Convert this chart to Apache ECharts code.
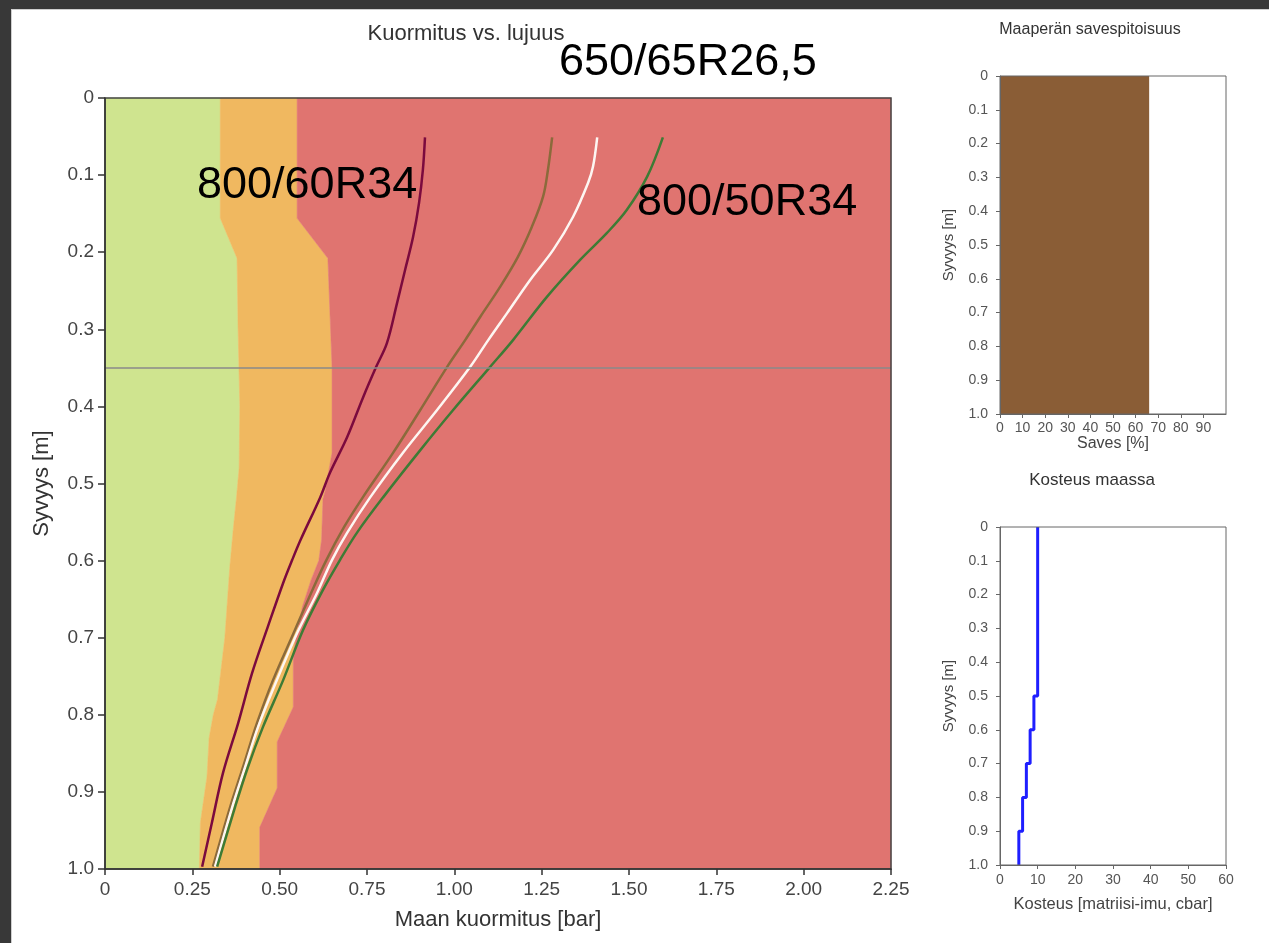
<!DOCTYPE html>
<html>
<head>
<meta charset="utf-8">
<script src="https://cdn.jsdelivr.net/npm/echarts@6/dist/echarts.min.js"></script>
<style>
  html, body { margin: 0; padding: 0; width: 1269px; height: 943px; background: #383838; overflow: hidden; }
  #paper { position: absolute; left: 11px; top: 9px; width: 1258px; height: 934px; background: #fff; border-left: 1px solid #cfcfcf; border-top: 1px solid #cfcfcf; box-sizing: border-box; }
  #chart { position: absolute; left: 0; top: 0; width: 1269px; height: 943px; }
</style>
</head>
<body>
<div id="paper"></div>
<div id="chart"></div>
<script>
// ---------- DATA ----------
// Main chart: soil load [bar] vs depth [m]
const loadMax = 2.25;
const loadStep = 0.25;

// zone edges (green/orange and orange/red) : load at depth
const greenEdgeDepth = [0, 0.156, 0.208, 0.30, 0.40, 0.48, 0.52, 0.56, 0.61, 0.70, 0.78, 0.80, 0.83, 0.88, 0.94, 1.0];
const greenEdge      = [0.330, 0.330, 0.378, 0.381, 0.386, 0.384, 0.376, 0.367, 0.357, 0.343, 0.322, 0.310, 0.298, 0.292, 0.273, 0.270];
const redEdgeDepth   = [0, 0.156, 0.208, 0.35, 0.46, 0.51, 0.52, 0.573, 0.60, 0.625, 0.66, 0.70, 0.72, 0.79, 0.835, 0.895, 0.946, 1.0];
const redEdge        = [0.550, 0.550, 0.638, 0.650, 0.650, 0.630, 0.624, 0.620, 0.612, 0.590, 0.565, 0.547, 0.539, 0.539, 0.493, 0.493, 0.443, 0.443];

// tyre load curves
const maroonDepth = [0.051, 0.093, 0.136, 0.180, 0.223, 0.266, 0.318, 0.349, 0.388, 0.440, 0.486, 0.518, 0.573, 0.599, 0.629, 0.686, 0.746, 0.811, 0.875, 0.940, 0.997];
const maroonLoad  = [0.916, 0.910, 0.899, 0.882, 0.859, 0.836, 0.807, 0.776, 0.739, 0.693, 0.644, 0.616, 0.560, 0.536, 0.510, 0.466, 0.421, 0.381, 0.338, 0.306, 0.278];
const brownDepth  = [0.051, 0.093, 0.128, 0.167, 0.206, 0.245, 0.284, 0.314, 0.349, 0.405, 0.460, 0.518, 0.556, 0.599, 0.642, 0.694, 0.755, 0.811, 0.868, 0.920, 0.997];
const brownLoad   = [1.280, 1.268, 1.254, 1.222, 1.182, 1.131, 1.074, 1.031, 0.979, 0.902, 0.825, 0.738, 0.685, 0.634, 0.590, 0.540, 0.481, 0.435, 0.395, 0.358, 0.309];
const whiteDepth  = [0.051, 0.089, 0.110, 0.154, 0.197, 0.236, 0.279, 0.314, 0.349, 0.405, 0.460, 0.518, 0.564, 0.599, 0.642, 0.694, 0.755, 0.816, 0.868, 0.920, 0.997];
const whiteLoad   = [1.409, 1.397, 1.383, 1.340, 1.283, 1.217, 1.151, 1.097, 1.045, 0.950, 0.853, 0.759, 0.693, 0.650, 0.607, 0.550, 0.492, 0.438, 0.401, 0.364, 0.315];
const greenDepth  = [0.051, 0.102, 0.145, 0.175, 0.210, 0.258, 0.314, 0.349, 0.405, 0.457, 0.518, 0.564, 0.599, 0.638, 0.690, 0.755, 0.816, 0.868, 0.920, 0.997];
const greenLoad   = [1.597, 1.552, 1.494, 1.437, 1.360, 1.265, 1.168, 1.102, 0.996, 0.902, 0.796, 0.721, 0.673, 0.624, 0.567, 0.510, 0.452, 0.409, 0.372, 0.321];

const refDepth = [0.35];

const tyreLabels = ['800/60R34', '650/65R26,5', '800/50R34'];

// Clay content panel
const clayTop = [0];
const clayBottom = [1.0];
const clayPct = [66];

// Moisture panel (layer edges, value per layer)
const moistureEdges = [0, 0.1, 0.2, 0.3, 0.4, 0.5, 0.6, 0.7, 0.8, 0.9, 1.0];
const moisture      = [10, 10, 10, 10, 10, 9, 8, 7, 6, 5];

// ---------- BUILD ----------
const FONT = '"Liberation Sans", Arial, sans-serif';
const pairs = (xs, ds) => xs.map((x, i) => [x, ds[i]]);

const greenEdgePts = pairs(greenEdge, greenEdgeDepth);
const redEdgePts = pairs(redEdge, redEdgeDepth);

function zone(name, leftPts, rightPts, color) {
  return {
    type: 'custom', name: name, xAxisIndex: 0, yAxisIndex: 0, z: 1, silent: true,
    data: [0],
    renderItem: function (params, api) {
      const pts = leftPts.map(p => api.coord(p)).concat(rightPts.slice().reverse().map(p => api.coord(p)));
      return { type: 'polygon', shape: { points: pts }, style: { fill: color, stroke: color, lineWidth: 0.5 } };
    }
  };
}
const zeroEdge = [[0, 0], [0, 1]];
const maxEdge = [[loadMax, 0], [loadMax, 1]];

const moisturePath = [];
moisture.forEach((m, i) => { moisturePath.push([m, moistureEdges[i]]); moisturePath.push([m, moistureEdges[i + 1]]); });

function curve(name, load, depth, color, width) {
  return {
    type: 'line', name: name, xAxisIndex: 0, yAxisIndex: 0, z: 3,
    data: pairs(load, depth), showSymbol: false, smooth: 0.35, silent: true,
    lineStyle: { color: color, width: width }
  };
}

const depthFmt = v => v === 0 ? '0' : v.toFixed(1);
const labelSmall = { fontSize: 14, color: '#555', fontFamily: FONT };
const noSplit = { show: false };

const chart = echarts.init(document.getElementById('chart'), null, { renderer: 'canvas' });
chart.setOption({
  animation: false,
  textStyle: { fontFamily: FONT },
  title: [
    { text: 'Kuormitus vs. lujuus', left: 466, top: 23, textAlign: 'center', padding: 0,
      textStyle: { fontSize: 22, fontWeight: 'normal', color: '#333', fontFamily: FONT } },
    { text: 'Maaperän savespitoisuus', left: 1090, top: 22, textAlign: 'center', padding: 0,
      textStyle: { fontSize: 16, fontWeight: 'normal', color: '#333', fontFamily: FONT } },
    { text: 'Kosteus maassa', left: 1092, top: 472, textAlign: 'center', padding: 0,
      textStyle: { fontSize: 17, fontWeight: 'normal', color: '#333', fontFamily: FONT } }
  ],
  grid: [
    { left: 105, top: 98, width: 786, height: 771, show: true, z: 10, backgroundColor: 'transparent', borderColor: '#444', borderWidth: 1.5 },
    { left: 1000, top: 76, width: 226, height: 338, show: true, z: 10, backgroundColor: 'transparent', borderColor: '#666', borderWidth: 1 },
    { left: 1000, top: 527, width: 226, height: 338, show: true, z: 10, backgroundColor: 'transparent', borderColor: '#666', borderWidth: 1 }
  ],
  xAxis: [
    { type: 'value', gridIndex: 0, min: 0, max: loadMax, interval: loadStep, z: 11,
      axisLine: { onZero: false, lineStyle: { color: '#333', width: 1.5 } },
      axisTick: { length: 6, lineStyle: { color: '#333', width: 1.5 } },
      axisLabel: { fontSize: 19, color: '#444', margin: 11, formatter: v => v === 0 ? '0' : v.toFixed(2) },
      splitLine: noSplit,
      name: 'Maan kuormitus [bar]', nameLocation: 'middle', nameGap: 40,
      nameTextStyle: { fontSize: 22, color: '#333' } },
    { type: 'value', gridIndex: 1, min: 0, max: 100, interval: 10, z: 11,
      axisLine: { onZero: false, lineStyle: { color: '#666', width: 1 } },
      axisTick: { length: 4, lineStyle: { color: '#666' } },
      axisLabel: Object.assign({ margin: 7, showMaxLabel: false }, labelSmall),
      splitLine: noSplit,
      name: 'Saves [%]', nameLocation: 'middle', nameGap: 20,
      nameTextStyle: { fontSize: 16, color: '#444' } },
    { type: 'value', gridIndex: 2, min: 0, max: 60, interval: 10, z: 11,
      axisLine: { onZero: false, lineStyle: { color: '#666', width: 1 } },
      axisTick: { length: 4, lineStyle: { color: '#666' } },
      axisLabel: Object.assign({ margin: 8 }, labelSmall),
      splitLine: noSplit,
      name: 'Kosteus [matriisi-imu, cbar]', nameLocation: 'middle', nameGap: 31,
      nameTextStyle: { fontSize: 16.5, color: '#444' } }
  ],
  yAxis: [
    { type: 'value', gridIndex: 0, min: 0, max: 1, interval: 0.1, inverse: true, z: 11,
      axisLine: { onZero: false, lineStyle: { color: '#333', width: 1.5 } },
      axisTick: { length: 7, lineStyle: { color: '#333', width: 1.5 } },
      axisLabel: { fontSize: 19, color: '#444', margin: 11, formatter: depthFmt },
      splitLine: noSplit,
      name: 'Syvyys [m]', nameLocation: 'middle', nameGap: 52, nameRotate: 90,
      nameTextStyle: { fontSize: 22, color: '#333' } },
    { type: 'value', gridIndex: 1, min: 0, max: 1, interval: 0.1, inverse: true, z: 11,
      axisLine: { onZero: false, lineStyle: { color: '#666', width: 1 } },
      axisTick: { length: 4, lineStyle: { color: '#666' } },
      axisLabel: Object.assign({ margin: 12, formatter: depthFmt }, labelSmall),
      splitLine: noSplit,
      name: 'Syvyys [m]', nameLocation: 'middle', nameGap: 44, nameRotate: 90,
      nameTextStyle: { fontSize: 15, color: '#444' } },
    { type: 'value', gridIndex: 2, min: 0, max: 1, interval: 0.1, inverse: true, z: 11,
      axisLine: { onZero: false, lineStyle: { color: '#666', width: 1 } },
      axisTick: { length: 4, lineStyle: { color: '#666' } },
      axisLabel: Object.assign({ margin: 12, formatter: depthFmt }, labelSmall),
      splitLine: noSplit,
      name: 'Syvyys [m]', nameLocation: 'middle', nameGap: 44, nameRotate: 90,
      nameTextStyle: { fontSize: 15, color: '#444' } }
  ],
  graphic: [
    { type: 'text', z: 100, style: { text: tyreLabels[0], x: 197, y: 186, font: '45px ' + FONT, fill: '#000', textVerticalAlign: 'middle', textAlign: 'left' } },
    { type: 'text', z: 100, style: { text: tyreLabels[1], x: 559, y: 63, font: '45px ' + FONT, fill: '#000', textVerticalAlign: 'middle', textAlign: 'left' } },
    { type: 'text', z: 100, style: { text: tyreLabels[2], x: 637, y: 203, font: '45px ' + FONT, fill: '#000', textVerticalAlign: 'middle', textAlign: 'left' } }
  ],
  series: [
    zone('vihreä', zeroEdge, greenEdgePts, '#cfe48f'),
    zone('oranssi', greenEdgePts, redEdgePts, '#f0b860'),
    zone('punainen', redEdgePts, maxEdge, '#e07470'),
    Object.assign(curve('800/60R34', maroonLoad, maroonDepth, '#7b0a3e', 2.5), {
      markLine: { silent: true, symbol: 'none', label: { show: false },
        lineStyle: { color: '#8a8a8a', width: 1.5, type: 'solid' },
        data: refDepth.map(d => ({ yAxis: d })) }
    }),
    curve('650/65R26,5 (ruskea)', brownLoad, brownDepth, '#8b6a3b', 2.5),
    curve('650/65R26,5', whiteLoad, whiteDepth, '#fdf6f2', 2.5),
    curve('800/50R34', greenLoad, greenDepth, '#3e7b35', 2.5),
    {
      type: 'custom', name: 'Saves', xAxisIndex: 1, yAxisIndex: 1, z: 1, silent: true,
      data: clayPct.map((v, i) => [v, clayTop[i], clayBottom[i]]),
      renderItem: function (params, api) {
        const p0 = api.coord([0, api.value(1)]);
        const p1 = api.coord([api.value(0), api.value(2)]);
        return { type: 'rect', shape: { x: p0[0], y: p0[1], width: p1[0] - p0[0], height: p1[1] - p0[1] }, style: { fill: '#8a5d36' } };
      }
    },
    {
      type: 'line', name: 'Kosteus', xAxisIndex: 2, yAxisIndex: 2, z: 3, silent: true,
      data: moisturePath, showSymbol: false,
      lineStyle: { color: '#1f1fff', width: 3 }
    }
  ]
});
</script>
</body>
</html>
